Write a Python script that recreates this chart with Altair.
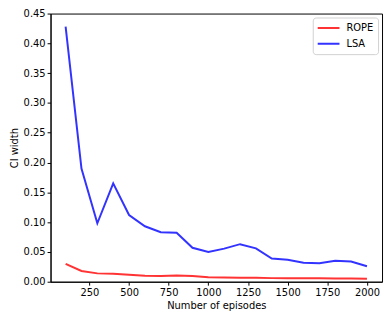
import altair as alt
import pandas as pd

episodes = [100, 200, 300, 400, 500, 600, 700, 800, 900, 1000,
            1100, 1200, 1300, 1400, 1500, 1600, 1700, 1800, 1900, 2000]
rope = [0.030, 0.018, 0.014, 0.0135, 0.0115, 0.010, 0.0095, 0.0105, 0.0095, 0.0075,
        0.007, 0.0068, 0.0065, 0.006, 0.006, 0.0058, 0.0057, 0.0055, 0.0055, 0.005]
lsa = [0.428, 0.190, 0.098, 0.165, 0.112, 0.093, 0.083, 0.082, 0.057, 0.050,
       0.0555, 0.063, 0.056, 0.039, 0.037, 0.032, 0.031, 0.035, 0.034, 0.026]
series = ["ROPE", "LSA"]
colors = ["#ff3333", "#3333ff"]
x_ticks = [250, 500, 750, 1000, 1250, 1500, 1750, 2000]
y_ticks = [0.0, 0.05, 0.10, 0.15, 0.20, 0.25, 0.30, 0.35, 0.40, 0.45]

df = pd.concat([
    pd.DataFrame({"episodes": episodes, "ci": rope, "method": "ROPE"}),
    pd.DataFrame({"episodes": episodes, "ci": lsa, "method": "LSA"}),
])

font = "DejaVu Sans"
chart = alt.Chart(df).mark_line(strokeWidth=2).encode(
    x=alt.X("episodes:Q", scale=alt.Scale(domain=[5, 2095], nice=False, zero=False),
            axis=alt.Axis(values=x_ticks, format="d", title="Number of episodes", grid=False)),
    y=alt.Y("ci:Q", scale=alt.Scale(domain=[0, 0.45], nice=False),
            axis=alt.Axis(values=y_ticks, format=".2f", title="CI width", grid=False)),
    color=alt.Color("method:N", scale=alt.Scale(domain=series, range=colors),
                    legend=alt.Legend(title=None, orient="top-right", symbolType="stroke",
                                      symbolStrokeWidth=2, symbolSize=484, clipHeight=13,
                                      strokeColor="#d0d0d0", cornerRadius=3, padding=4,
                                      fillColor="white", labelFontSize=10, labelFont=font,
                                      labelOffset=6, offset=4, rowPadding=3)),
).properties(
    width=335, height=271,
    autosize=alt.AutoSizeParams(type="none"),
    padding={"left": 43, "top": 4, "right": 2, "bottom": 30},
).configure_view(stroke="black", strokeWidth=1).configure_axis(
    domainColor="black", tickColor="black", labelColor="black", titleColor="black",
    labelFont=font, titleFont=font, labelFontSize=10, titleFontSize=10,
    titleFontWeight="normal", tickSize=3.5, labelPadding=2, titlePadding=4,
)

chart.save("out.html", embed_options={"renderer": "svg", "actions": False})
